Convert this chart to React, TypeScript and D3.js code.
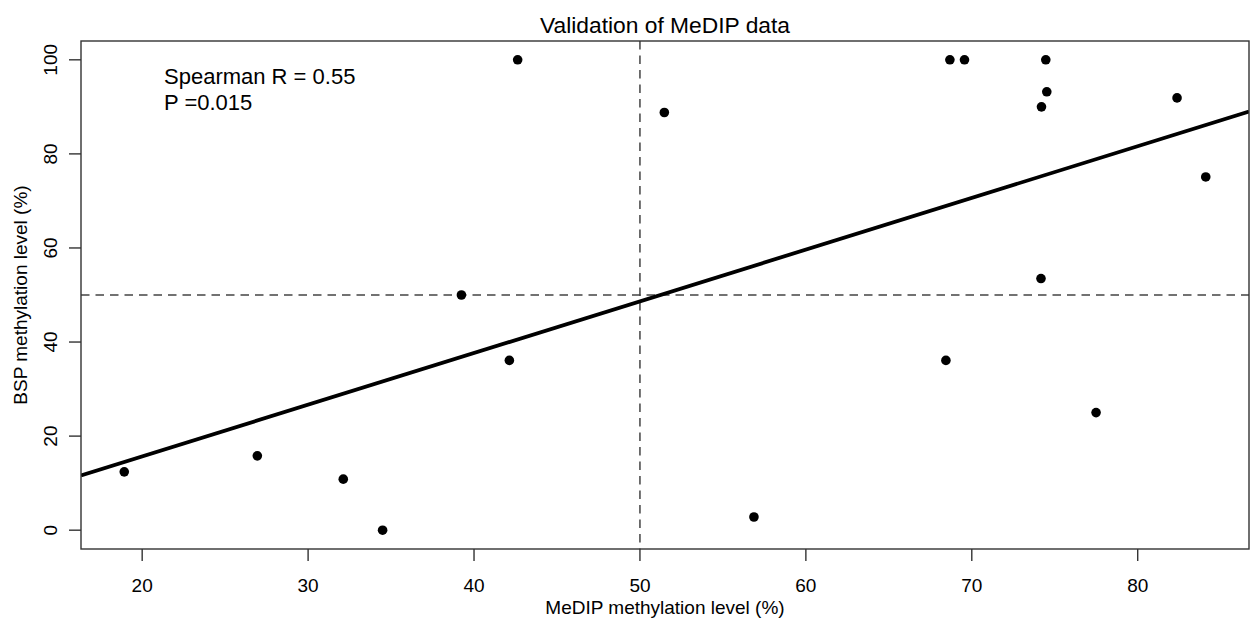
import React from "react";
import * as d3 from "d3";

const medip = [18.92, 26.94, 32.12, 34.49, 39.24, 42.13, 42.63, 51.47, 56.87, 68.44, 68.68, 69.56, 74.46, 74.52, 74.2, 74.17, 77.49, 82.37, 84.1];
const bsp = [12.4, 15.8, 10.85, 0, 50, 36.1, 100, 88.8, 2.8, 36.1, 100, 100, 100, 93.2, 90, 53.5, 25, 91.9, 75.1];
const xTicks = [20, 30, 40, 50, 60, 70, 80];
const yTicks = [0, 20, 40, 60, 80, 100];
const refX = 50;
const refY = 50;
const title = "Validation of MeDIP data";
const xLabel = "MeDIP methylation level (%)";
const yLabel = "BSP methylation level (%)";
const annot = ["Spearman R = 0.55", "P =0.015"];

const W = 1250;
const H = 619;
const left = 81, right = 1249, top = 41, bottom = 549;
const FONT = "'Liberation Sans', Arial, Helvetica, sans-serif";

function rExtent(v: number[]): [number, number] {
  const [a, b] = d3.extent(v) as [number, number];
  const pad = (b - a) * 0.04;
  return [a - pad, b + pad];
}

export default function App() {
  const x = d3.scaleLinear().domain(rExtent(medip)).range([left, right]);
  const y = d3.scaleLinear().domain(rExtent(bsp)).range([bottom, top]);

  // least squares fit
  const mx = d3.mean(medip) as number;
  const my = d3.mean(bsp) as number;
  let sxy = 0, sxx = 0;
  medip.forEach((v, i) => {
    sxy += (v - mx) * (bsp[i] - my);
    sxx += (v - mx) * (v - mx);
  });
  const slope = sxy / sxx;
  const intercept = my - slope * mx;
  const [x0, x1] = x.domain();
  const fitLine = d3.line<number>().x((d) => x(d)).y((d) => y(intercept + slope * d))([x0, x1]) as string;

  const axisColor = "#333";
  const tickLen = 12;

  return (
    <svg width={W} height={H} style={{ position: "absolute", left: 0, top: 0, background: "#fff" }} fontFamily={FONT}>
      <rect x={0} y={0} width={W} height={H} fill="#fff" />
      <defs>
        <clipPath id="plotclip">
          <rect x={left} y={top} width={right - left} height={bottom - top} />
        </clipPath>
      </defs>
      {/* title */}
      <text x={(left + right) / 2} y={33} textAnchor="middle" fontSize={22.8} fill="#000">{title}</text>

      {/* reference dashed lines */}
      <g clipPath="url(#plotclip)">
        <line x1={x(refX)} x2={x(refX)} y1={top} y2={bottom} stroke="#444" strokeWidth={1.5} strokeDasharray="8.5,6" />
        <line x1={left} x2={right} y1={y(refY)} y2={y(refY)} stroke="#444" strokeWidth={1.5} strokeDasharray="8.5,6" />
        <path d={fitLine} stroke="#000" strokeWidth={3.8} fill="none" />
        {medip.map((v, i) => (
          <circle key={i} cx={x(v)} cy={y(bsp[i])} r={4.8} fill="#000" />
        ))}
      </g>

      {/* box */}
      <rect x={left} y={top} width={right - left} height={bottom - top} fill="none" stroke={axisColor} strokeWidth={1.4} />

      {/* x axis */}
      {xTicks.map((t) => (
        <g key={"x" + t}>
          <line x1={x(t)} x2={x(t)} y1={bottom} y2={bottom + tickLen} stroke={axisColor} strokeWidth={1.4} />
          <text x={x(t)} y={592} textAnchor="middle" fontSize={19} fill="#000">{t}</text>
        </g>
      ))}
      <text x={(left + right) / 2} y={614} textAnchor="middle" fontSize={19} fill="#000">{xLabel}</text>

      {/* y axis */}
      {yTicks.map((t) => (
        <g key={"y" + t}>
          <line x1={left - tickLen} x2={left} y1={y(t)} y2={y(t)} stroke={axisColor} strokeWidth={1.4} />
          <text transform={`translate(57,${y(t)}) rotate(-90)`} textAnchor="middle" fontSize={19} fill="#000">{t}</text>
        </g>
      ))}
      <text transform={`translate(27,${(top + bottom) / 2}) rotate(-90)`} textAnchor="middle" fontSize={19} fill="#000">{yLabel}</text>

      {/* annotation */}
      {annot.map((s, i) => (
        <text key={s} x={164} y={84 + i * 26} fontSize={22} fill="#000">{s}</text>
      ))}
    </svg>
  );
}
